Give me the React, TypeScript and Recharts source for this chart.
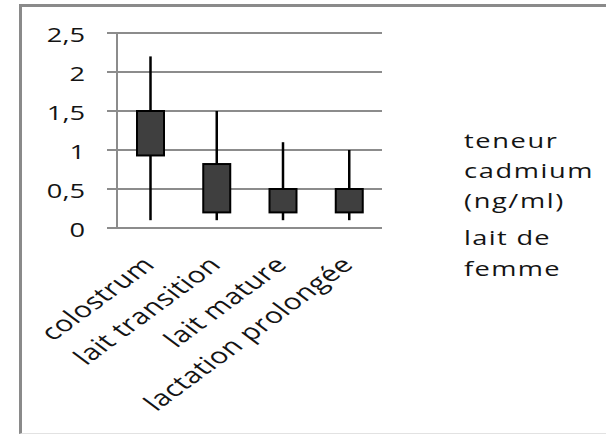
import React from 'react';
import { ComposedChart, Bar, XAxis, YAxis, CartesianGrid } from 'recharts';

const categories = ['colostrum', 'lait transition', 'lait mature', 'lactation prolongée'];
const minValues = [0.1, 0.1, 0.1, 0.1];
const q1Values = [0.93, 0.2, 0.2, 0.2];
const q3Values = [1.5, 0.82, 0.5, 0.5];
const maxValues = [2.2, 1.5, 1.1, 1.0];
const yTicks = [0, 0.5, 1, 1.5, 2, 2.5];
const edgeTicks = [0, 1, 2, 3, 4];
const legendBlock1 = ['teneur', 'cadmium', '(ng/ml)'];
const legendBlock2 = ['lait de', 'femme'];

const data = categories.map((name, i) => ({
  name,
  range: [minValues[i], maxValues[i]],
  q1: q1Values[i],
  q3: q3Values[i],
}));

const FONT = "'Open Sans', sans-serif";
const TEXT = '#141414';
const GRID = '#8c8c8c';
const SX = 1.36;

const BoxShape = (props: any) => {
  const { x, y, width, height, payload } = props;
  const [lo, hi] = payload.range;
  const pix = (v: number) => y + (height * (hi - v)) / (hi - lo);
  const cx = x + width / 2;
  const top = pix(payload.q3);
  const bot = pix(payload.q1);
  return (
    <g>
      <line x1={cx} x2={cx} y1={y} y2={y + height} stroke="#000" strokeWidth={2.5} />
      <rect x={x} y={top} width={width} height={bot - top} fill="#3f3f3f" stroke="#000" strokeWidth={2} />
    </g>
  );
};

const YTick = (props: any) => {
  const { x, y, payload } = props;
  return (
    <text
      transform={`translate(${x},${y + 2}) scale(${SX},1)`}
      textAnchor="end"
      dy="0.36em"
      fontSize={20}
      fontFamily={FONT}
      fill={TEXT}
    >
      {String(payload.value).replace('.', ',')}
    </text>
  );
};

const XTick = (props: any) => {
  const { x, y, payload } = props;
  return (
    <text
      transform={`translate(${x + 6},${y}) scale(${SX},1) rotate(-45)`}
      textAnchor="end"
      fontSize={22}
      letterSpacing={0.4}
      fontFamily={FONT}
      fill={TEXT}
    >
      {payload.value}
    </text>
  );
};

const legendBaselines1 = [148, 178, 208];
const legendBaselines2 = [245, 276];

export default function App() {
  return (
    <div style={{ position: 'absolute', left: 0, top: 0, width: 606, height: 436, overflow: 'hidden', background: '#fff' }}>
      <div
        style={{
          position: 'absolute',
          left: 19,
          top: 4,
          width: 587,
          height: 430,
          borderLeft: '3px solid #8a8a8a',
          borderTop: '3px solid #8a8a8a',
          borderBottom: '1px solid #e2e2e2',
          boxSizing: 'border-box',
        }}
      />
      <div style={{ position: 'absolute', left: 0, top: 0 }}>
        <ComposedChart width={606} height={436} data={data} margin={{ top: 33, right: 224, bottom: 0, left: 0 }}>
          <CartesianGrid xAxisId="cat" horizontal vertical={false} stroke={GRID} strokeWidth={2} />
          <XAxis
            xAxisId="edges"
            type="number"
            domain={[0, 4]}
            ticks={edgeTicks}
            allowDataOverflow
            height={0}
            axisLine={false}
            tickSize={8}
            tickLine={{ stroke: GRID, strokeWidth: 2 }}
            tickFormatter={() => ''}
          />
          <XAxis
            xAxisId="cat"
            dataKey="name"
            type="category"
            height={208}
            interval={0}
            tickSize={0}
            tickLine={false}
            tickMargin={38}
            axisLine={{ stroke: GRID, strokeWidth: 2 }}
            tick={<XTick />}
          />
          <YAxis
            domain={[0, 2.5]}
            ticks={yTicks}
            width={117}
            tickSize={10}
            tickMargin={22}
            axisLine={{ stroke: GRID, strokeWidth: 2 }}
            tickLine={{ stroke: GRID, strokeWidth: 2 }}
            tick={<YTick />}
            interval={0}
          />
          <Bar xAxisId="cat" dataKey="range" barSize={27} shape={<BoxShape />} isAnimationActive={false} />
        </ComposedChart>
      </div>
      <svg width={606} height={436} style={{ position: 'absolute', left: 0, top: 0, pointerEvents: 'none' }}>
        {legendBlock1.map((t, i) => (
          <text key={t} transform={`translate(464,${legendBaselines1[i]}) scale(${SX},1)`} fontSize={20} letterSpacing={1.2} fontFamily={FONT} fill={TEXT}>
            {t}
          </text>
        ))}
        {legendBlock2.map((t, i) => (
          <text key={t} transform={`translate(464,${legendBaselines2[i]}) scale(${SX},1)`} fontSize={20} letterSpacing={1.0} fontFamily={FONT} fill={TEXT}>
            {t}
          </text>
        ))}
      </svg>
    </div>
  );
}
